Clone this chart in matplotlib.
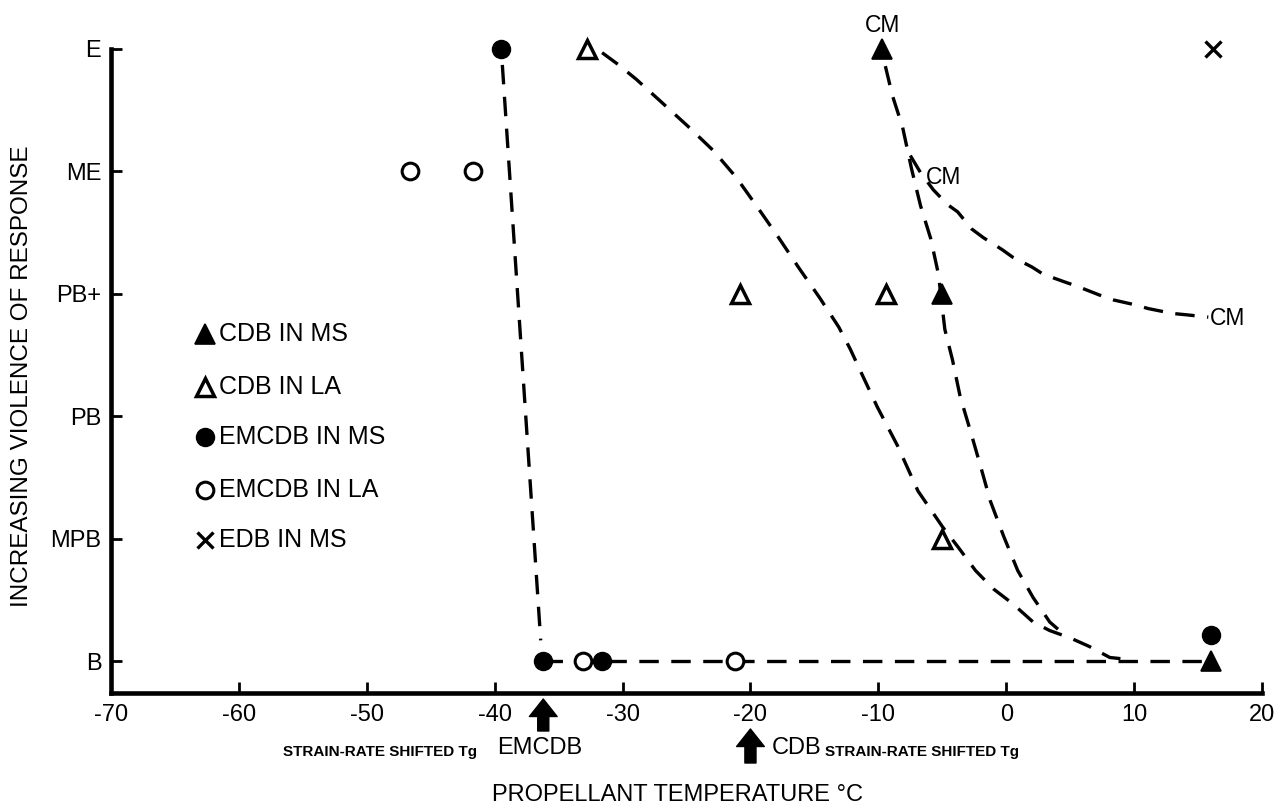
import matplotlib
matplotlib.use("Agg")
import matplotlib.pyplot as plt

plt.rcParams['font.family'] = ['Liberation Sans', 'DejaVu Sans']
plt.rcParams['axes.unicode_minus'] = False
plt.rcParams['lines.scale_dashes'] = False

# ---- data ----
levels = ['B', 'MPB', 'PB', 'PB+', 'ME', 'E']
xticks = [-70, -60, -50, -40, -30, -20, -10, 0, 10, 20]

cdb_ms_x = [-9.7, -5.0, 16.0]
cdb_ms_y = [5, 3, 0]
cdb_la_x = [-32.8, -20.8, -9.4, -5.0]
cdb_la_y = [5, 3, 3, 1]
emcdb_ms_x = [-39.5, -36.2, -31.6, 16.0]
emcdb_ms_y = [5, 0, 0, 0.21]
emcdb_la_x = [-46.6, -41.7, -33.1, -21.2]
emcdb_la_y = [4, 4, 0, 0]
edb_ms_x = [16.2]
edb_ms_y = [5]

# dashed trend curves
c1_x = [-39.4, -36.4]
c1_y = [4.87, 0.17]
cb_x = [-36.2, 15.6]
cb_y = [0, 0]
c2_x = [-31.6, -30.3, -28.9, -27.0, -24.9, -22.9, -21.1, -19.4, -17.8, -16.2,
        -14.6, -13.1, -12.2, -11.4, -10.1, -8.5, -6.9, -5.0, -3.75, -2.4, -1.0, 0.5,
        2.1, 3.4, 5.0, 6.5, 8.1, 9.9]
c2_y = [4.97, 4.87, 4.75, 4.57, 4.37, 4.17, 3.95, 3.70, 3.46, 3.21,
        2.97, 2.73, 2.55, 2.37, 2.08, 1.76, 1.39, 1.10, 0.93, 0.74, 0.59, 0.47,
        0.32, 0.25, 0.19, 0.12, 0.03, 0.01]
c3_x = [-9.45, -8.9, -8.1, -7.4, -6.7, -5.9, -5.3, -4.8, -4.2, -3.6, -2.8,
        -2.0, -1.25, -0.2, 0.9, 2.1, 3.4, 4.5]
c3_y = [4.86, 4.62, 4.36, 4.02, 3.72, 3.45, 3.16, 2.71, 2.46, 2.16, 1.88,
        1.59, 1.31, 1.02, 0.74, 0.52, 0.32, 0.22]
c4_x = [-7.5, -6.7, -5.7, -4.6, -3.8, -2.7, -1.8, -0.3, 0.5, 2.0, 2.9, 4.5,
        5.6, 7.3, 8.4, 10.1, 11.1, 13.0, 14.0, 15.8]
c4_y = [4.13, 3.99, 3.85, 3.73, 3.67, 3.53, 3.46, 3.36, 3.30, 3.22, 3.16,
        3.10, 3.06, 2.99, 2.95, 2.91, 2.88, 2.84, 2.83, 2.81]

legend_labels = ['CDB IN MS', 'CDB IN LA', 'EMCDB IN MS', 'EMCDB IN LA', 'EDB IN MS']

W, H = 1285, 809
fig = plt.figure(figsize=(W / 100, H / 100), dpi=100)
ax = fig.add_axes([111 / W, 1 - 693 / H, 1151 / W, (693 - 49) / H])
ax.set_xlim(-70, 20)
ax.set_ylim(-0.26, 5)

for s in ['top', 'right']:
    ax.spines[s].set_visible(False)
for s in ['left', 'bottom']:
    ax.spines[s].set_linewidth(3.3)
    ax.spines[s].set_capstyle('projecting')

ax.set_xticks(xticks)
ax.set_xticklabels([str(t) for t in xticks])
ax.set_yticks(range(len(levels)))
ax.set_yticklabels(levels)
ax.tick_params(axis='both', direction='in', length=8, width=2.0, labelsize=17)
ax.tick_params(axis='x', pad=8)
ax.tick_params(axis='y', pad=7)

dash = dict(color='black', lw=2.4, dashes=(14, 9), solid_capstyle='butt',
            dash_capstyle='butt', dash_joinstyle='round', zorder=2)
ax.plot(c1_x, c1_y, **dash)
ax.plot(cb_x, cb_y, **dash)
ax.plot(c2_x, c2_y, **dash)
ax.plot(c3_x, c3_y, **dash)
ax.plot(c4_x, c4_y, **dash)

styles = [
    dict(marker='^', ms=15, mfc='black', mec='black', mew=1.2),
    dict(marker='^', ms=13, mfc='white', mec='black', mew=2.5),
    dict(marker='o', ms=13, mfc='black', mec='black', mew=1.0),
    dict(marker='o', ms=12, mfc='white', mec='black', mew=2.2),
    dict(marker='x', ms=12, mfc='black', mec='black', mew=2.4),
]
series = [(cdb_ms_x, cdb_ms_y), (cdb_la_x, cdb_la_y), (emcdb_ms_x, emcdb_ms_y),
          (emcdb_la_x, emcdb_la_y), (edb_ms_x, edb_ms_y)]
for (xs, ys), st in zip(series, styles):
    ax.plot(xs, ys, ls='none', clip_on=False, zorder=4, **st)

# legend drawn by hand
leg_y_px = [334, 387, 437, 490, 540]
for lab, st, yp in zip(legend_labels, styles, leg_y_px):
    fy = 1 - yp / H
    fig.lines.append(matplotlib.lines.Line2D([205 / W], [fy], transform=fig.transFigure,
                                             ls='none', **st))
    fig.text(219 / W, fy, lab, fontsize=18, ha='left', va='center')

# CM labels
ax.text(-9.7, 5.19, 'CM', fontsize=16.5, ha='center', va='center')
ax.text(-6.25, 3.95, 'CM', fontsize=16.5, ha='left', va='center')
ax.text(15.9, 2.80, 'CM', fontsize=16.5, ha='left', va='center')

# axis labels
fig.text(22 / W, 1 - 376 / H, 'INCREASING VIOLENCE OF RESPONSE', rotation=90,
         fontsize=17.5, ha='center', va='center')
fig.text(678 / W, 1 - 795 / H, 'PROPELLANT TEMPERATURE °C', fontsize=17,
         ha='center', va='center')

# Tg annotations
fig.text(477 / W, 1 - 752 / H, 'STRAIN-RATE SHIFTED Tg', fontsize=11,
         fontweight='bold', ha='right', va='center')
fig.text(540 / W, 1 - 748 / H, 'EMCDB', fontsize=17, ha='center', va='center')
fig.text(772 / W, 1 - 748 / H, 'CDB', fontsize=17, ha='left', va='center')
fig.text(825 / W, 1 - 752 / H, 'STRAIN-RATE SHIFTED Tg', fontsize=11,
         fontweight='bold', ha='left', va='center')

arrow = dict(arrowstyle='simple,head_length=0.6,head_width=0.95,tail_width=0.38',
             color='black', mutation_scale=21, shrinkA=0, shrinkB=0)
ax.annotate('', xy=(-36.2, H - 699), xytext=(-36.2, H - 731),
            xycoords=('data', 'figure pixels'), textcoords=('data', 'figure pixels'),
            arrowprops=arrow, annotation_clip=False)
ax.annotate('', xy=(-20.0, H - 729), xytext=(-20.0, H - 763),
            xycoords=('data', 'figure pixels'), textcoords=('data', 'figure pixels'),
            arrowprops=arrow, annotation_clip=False)

fig.savefig('out.png', dpi=100)
